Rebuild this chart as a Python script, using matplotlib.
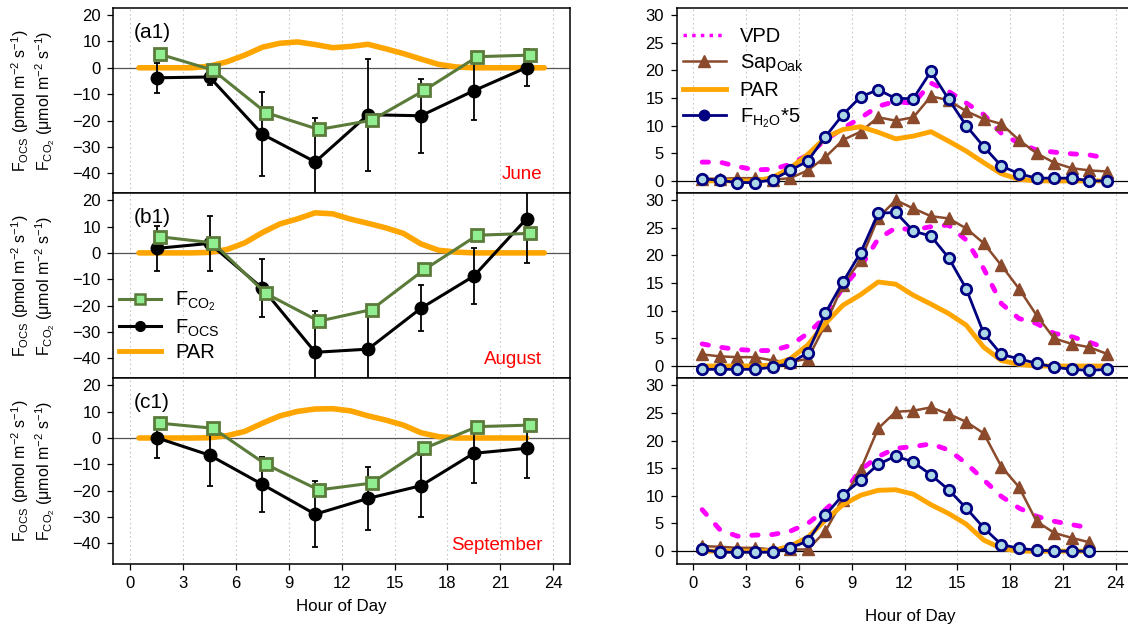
import matplotlib.pyplot as plt
from matplotlib.lines import Line2D

plt.rcParams['font.family'] = ['Liberation Sans', 'DejaVu Sans']
plt.rcParams['mathtext.fontset'] = 'custom'
plt.rcParams['mathtext.rm'] = 'Liberation Sans'
plt.rcParams['mathtext.it'] = 'Liberation Sans:italic'
plt.rcParams['mathtext.bf'] = 'Liberation Sans:bold'

# ---- data ----
months = ["June", "August", "September"]
left_tags = ["(a1)", "(b1)", "(c1)"]

ocs_hours = [1.5, 4.5, 7.5, 10.5, 13.5, 16.5, 19.5, 22.5]
co2_hours = [1.7, 4.7, 7.7, 10.7, 13.7, 16.7, 19.7, 22.7]

ocs_jun = [-3.8, -3.5, -25.2, -35.7, -17.8, -18.2, -8.7, 0.1]
ocs_aug = [1.7, 3.6, -13.4, -37.7, -36.5, -21.0, -8.8, 13.0]
ocs_sep = [0.1, -6.5, -17.6, -28.9, -22.9, -18.1, -5.8, -3.9]

ocs_err_jun = [5.7, 3.1, 16.0, 16.8, 21.3, 14.0, 11.2, 6.9]
ocs_err_aug = [8.5, 10.4, 11.0, 15.7, 14.0, 8.8, 10.7, 16.8]
ocs_err_sep = [7.6, 11.7, 10.4, 12.6, 12.0, 11.8, 11.4, 11.2]

co2_jun = [5.1, -0.9, -17.0, -23.4, -19.9, -8.5, 4.2, 4.8]
co2_aug = [6.1, 3.8, -15.4, -25.9, -21.5, -6.3, 6.7, 7.4]
co2_sep = [5.6, 3.7, -10.0, -19.7, -17.1, -3.9, 4.3, 4.9]

hours_24 = [0.5, 1.5, 2.5, 3.5, 4.5, 5.5, 6.5, 7.5, 8.5, 9.5, 10.5, 11.5,
            12.5, 13.5, 14.5, 15.5, 16.5, 17.5, 18.5, 19.5, 20.5, 21.5, 22.5, 23.5]
hours_23 = [0.5, 1.5, 2.5, 3.5, 4.5, 5.5, 6.5, 7.5, 8.5, 9.5, 10.5, 11.5,
            12.5, 13.5, 14.5, 15.5, 16.5, 17.5, 18.5, 19.5, 20.5, 21.5, 22.5]

par_jun = [0, 0, 0, 0, 0.6, 2.3, 4.8, 7.8, 9.3, 9.8, 8.8, 7.6,
           8.1, 8.9, 7.2, 5.4, 3.3, 1.3, 0.3, 0, 0, 0, 0, 0]
par_aug = [0, 0, 0, 0, 0.2, 1.3, 3.8, 7.7, 11.0, 12.9, 15.2, 14.8,
           12.8, 11.2, 9.5, 7.4, 3.4, 1.0, 0.3, 0, 0, 0, 0, 0]
par_sep = [0, 0, 0, 0, 0.1, 0.9, 2.5, 5.6, 8.4, 10.1, 11.0, 11.1,
           10.3, 8.4, 6.8, 4.9, 2.0, 0.5, 0, 0, 0, 0, 0]

vpd_jun = [3.4, 3.4, 2.6, 2.0, 2.1, 3.0, 4.7, 7.4, 9.5, 11.4, 13.5, 14.4,
           14.0, 17.7, 16.2, 14.1, 12.0, 8.6, 6.8, 5.6, 5.2, 4.9, 4.7, 4.1]
vpd_aug = [4.0, 3.4, 3.0, 2.8, 2.8, 3.7, 5.9, 8.9, 14.3, 17.9, 23.0, 25.0,
           24.6, 25.2, 25.5, 22.8, 17.6, 11.3, 8.6, 7.7, 5.9, 5.3, 4.3, 3.2]
vpd_sep = [7.5, 3.9, 2.7, 2.9, 3.0, 3.6, 5.0, 7.5, 10.4, 14.7, 17.1, 18.6,
           18.9, 19.4, 18.3, 15.9, 12.9, 9.9, 7.8, 6.3, 5.4, 4.8, 4.2]

sap_jun = [0.4, 0.4, 0.5, 0.5, 0.2, 0.5, 1.9, 4.3, 7.4, 8.9, 11.5, 10.9,
           11.5, 15.3, 14.6, 12.6, 11.2, 10.3, 7.4, 5.0, 3.3, 2.3, 1.9, 1.7]
sap_aug = [2.1, 1.75, 1.6, 1.6, 1.0, 0.7, 1.3, 7.5, 14.7, 19.1, 26.8, 30.0,
           28.5, 27.1, 26.7, 24.9, 22.2, 18.2, 14.0, 9.2, 5.0, 4.0, 3.4, 2.2]
sap_sep = [0.9, 0.8, 0.6, 0.6, 0.3, 0.3, 0.3, 3.6, 9.3, 14.7, 22.2, 25.2,
           25.4, 26.0, 24.8, 23.4, 21.3, 15.3, 11.6, 5.4, 3.3, 2.4, 1.6]

h2o_jun = [0.4, 0.1, -0.3, -0.3, 0.2, 1.9, 3.6, 8.0, 12.0, 15.2, 16.5, 14.9,
           14.9, 19.8, 14.8, 10.0, 6.2, 2.7, 1.3, 0.5, 0.5, 0.5, 0.0, 0.0]
h2o_aug = [-0.6, -0.6, -0.6, -0.6, -0.2, 0.5, 2.4, 9.6, 15.2, 20.5, 27.6, 27.8,
           24.4, 23.5, 19.6, 14.0, 5.9, 2.1, 1.3, 0.5, -0.2, -0.6, -0.8, -0.6]
h2o_sep = [0.3, -0.2, -0.2, -0.2, -0.2, 0.6, 1.8, 6.5, 10.2, 12.8, 15.7, 17.2,
           16.1, 13.8, 11.1, 7.8, 4.2, 1.2, 0.5, 0.2, 0.0, 0.0, 0.0]

left_yticks = [-40, -30, -20, -10, 0, 10, 20]
right_yticks = [0, 5, 10, 15, 20, 25, 30]
hour_ticks = [0, 3, 6, 9, 12, 15, 18, 21, 24]

# ---- colours ----
C_GREEN = "#5b7b3a"
C_LGREEN = "#90ee90"
C_ORANGE = "#ffa500"
C_BROWN = "#8b4a2b"
C_NAVY = "#000080"
C_LBLUE = "#add8e6"
C_MAGENTA = "#ff00ff"
C_GRID = "#c8c8c8"

W, H = 1128, 629
fig = plt.figure(figsize=(W / 100, H / 100), dpi=100)

row_bottoms = [0.6927, 0.3984, 0.1041]
row_h = 0.2943
left_x, left_w = 113.3 / W, 456.7 / W
right_x, right_w = 676.5 / W, 456.1 / W


def style_axis(ax, ylim, yticks, bottom, zero_color):
    ax.set_xlim(-0.96, 24.96)
    ax.set_ylim(*ylim)
    ax.set_yticks(yticks)
    ax.set_xticks(hour_ticks)
    for xv in hour_ticks:
        ax.axvline(xv, color=C_GRID, lw=0.8, ls=(0, (1.5, 2.5)), zorder=0)
    ax.axhline(0, color=zero_color, lw=0.9, zorder=1)
    for sp in ax.spines.values():
        sp.set_linewidth(1.1)
    ax.tick_params(direction='out', length=4.5, width=0.9, labelsize=12, pad=4.5)
    if not bottom:
        ax.tick_params(axis='x', bottom=False, labelbottom=False)


ocs_all = [ocs_jun, ocs_aug, ocs_sep]
err_all = [ocs_err_jun, ocs_err_aug, ocs_err_sep]
co2_all = [co2_jun, co2_aug, co2_sep]
par_all = [par_jun, par_aug, par_sep]
vpd_all = [vpd_jun, vpd_aug, vpd_sep]
sap_all = [sap_jun, sap_aug, sap_sep]
h2o_all = [h2o_jun, h2o_aug, h2o_sep]
hours_all = [hours_24, hours_24, hours_23]

for i in range(3):
    bottom = (i == 2)

    # left column: fluxes
    ax = fig.add_axes([left_x, row_bottoms[i], left_w, row_h])
    style_axis(ax, (-47.6, 22.6), left_yticks, bottom, "#555555")
    ax.plot(hours_all[i], par_all[i], color=C_ORANGE, lw=4.0,
            solid_capstyle='round', zorder=2)
    ax.errorbar(ocs_hours, ocs_all[i], yerr=err_all[i], color='black',
                lw=2.2, elinewidth=1.3, capsize=2.5, capthick=1.3,
                marker='o', ms=9, mfc='black', mec='black', zorder=3)
    ax.plot(co2_hours, co2_all[i], color=C_GREEN, lw=2.2, marker='s',
            ms=8, mfc=C_LGREEN, mec=C_GREEN, mew=2.0, zorder=4)
    ax.text(0.045, 0.87, left_tags[i], transform=ax.transAxes,
            fontsize=15, ha='left', va='center')
    ax.text(0.939, 0.10, months[i], transform=ax.transAxes, color='red',
            fontsize=13.5, ha='right', va='center')

    if i == 1:
        handles = [
            Line2D([], [], color=C_GREEN, lw=2.2, marker='s', ms=7,
                   mfc=C_LGREEN, mec=C_GREEN, mew=1.8),
            Line2D([], [], color='black', lw=2.2, marker='o', ms=7),
            Line2D([], [], color=C_ORANGE, lw=3.5),
        ]
        labels = [r'$\mathrm{F_{CO_2}}$', r'$\mathrm{F_{OCS}}$', 'PAR']
        ax.legend(handles, labels, loc='center left',
                  bbox_to_anchor=(0.012, 0.285), frameon=False, fontsize=14.5,
                  handlelength=2.1, handletextpad=0.7, labelspacing=0.2,
                  borderpad=0, borderaxespad=0)

    # y label (two lines)
    yc = row_bottoms[i] + row_h / 2
    fig.text(20 / W, yc, r'$\mathrm{F_{OCS}}$ (pmol m$^{-2}$ s$^{-1}$)',
             rotation=90, ha='center', va='center', fontsize=11.5)
    fig.text(45 / W, yc, r'$\mathrm{F_{CO_2}}$ (μmol m$^{-2}$ s$^{-1}$)',
             rotation=90, ha='center', va='center', fontsize=11.5)

    # right column: drivers
    ax2 = fig.add_axes([right_x, row_bottoms[i], right_w, row_h])
    style_axis(ax2, (-2.24, 31.24), right_yticks, bottom, "black")
    ax2.plot(hours_all[i], vpd_all[i], color=C_MAGENTA, lw=3.5,
             ls=(0, (1.3, 2.8)), dash_capstyle='round', zorder=2)
    ax2.plot(hours_all[i], sap_all[i], color=C_BROWN, lw=1.8, marker='^',
             ms=8, mfc=C_BROWN, mec=C_BROWN, zorder=3)
    ax2.plot(hours_all[i], par_all[i], color=C_ORANGE, lw=3.5,
             solid_capstyle='round', zorder=4)
    ax2.plot(hours_all[i], h2o_all[i], color=C_NAVY, lw=2.0, marker='o',
             ms=7.5, mfc=C_LBLUE, mec=C_NAVY, mew=2.0, zorder=5)

    if i == 0:
        handles = [
            Line2D([], [], color=C_MAGENTA, lw=2.5, ls=(0, (1.0, 1.5))),
            Line2D([], [], color=C_BROWN, lw=1.8, marker='^', ms=8),
            Line2D([], [], color=C_ORANGE, lw=3.5),
            Line2D([], [], color=C_NAVY, lw=2.0, marker='o', ms=7.5),
        ]
        labels = ['VPD', r'$\mathrm{Sap_{Oak}}$', 'PAR', r'$\mathrm{F_{H_2O}}$*5']
        ax2.legend(handles, labels, loc='center left',
                   bbox_to_anchor=(0.015, 0.622), frameon=False, fontsize=14.5,
                   handlelength=2.1, handletextpad=0.7, labelspacing=0.32,
                   borderpad=0, borderaxespad=0)

fig.text(341 / W, 1 - 607 / H, "Hour of Day", ha='center', va='center', fontsize=12.2)
fig.text(910 / W, 1 - 616 / H, "Hour of Day", ha='center', va='center', fontsize=12.2)

fig.savefig("out.png", dpi=100)
